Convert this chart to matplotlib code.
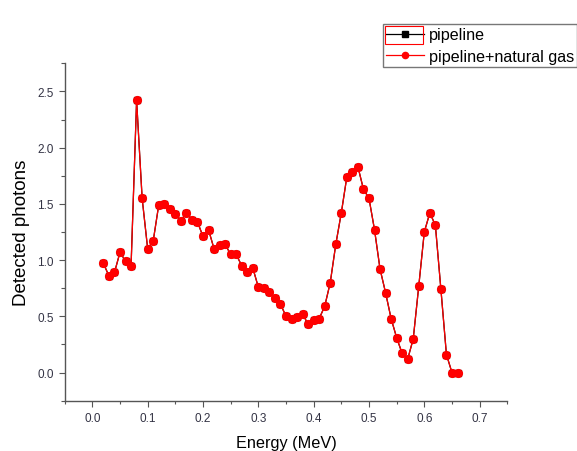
import numpy as np
import matplotlib
matplotlib.use("Agg")
import matplotlib.pyplot as plt
from matplotlib.patches import Rectangle
from matplotlib.ticker import MultipleLocator, FormatStrFormatter

plt.rcParams['font.family'] = ['Liberation Sans', 'DejaVu Sans']

# energy (MeV)
energy = [0.02, 0.03, 0.04, 0.05, 0.06, 0.07, 0.08, 0.09, 0.10, 0.11,
          0.12, 0.13, 0.14, 0.15, 0.16, 0.17, 0.18, 0.19, 0.20, 0.21,
          0.22, 0.23, 0.24, 0.25, 0.26, 0.27, 0.28, 0.29, 0.30, 0.31,
          0.32, 0.33, 0.34, 0.35, 0.36, 0.37, 0.38, 0.39, 0.40, 0.41,
          0.42, 0.43, 0.44, 0.45, 0.46, 0.47, 0.48, 0.49, 0.50, 0.51,
          0.52, 0.53, 0.54, 0.55, 0.56, 0.57, 0.58, 0.59, 0.60, 0.61,
          0.62, 0.63, 0.64, 0.65, 0.66]

# detected photons, pipeline only
pipeline = [0.97, 0.86, 0.89, 1.07, 0.99, 0.95, 2.42, 1.55, 1.10, 1.17,
            1.49, 1.50, 1.45, 1.41, 1.35, 1.42, 1.36, 1.34, 1.21, 1.27,
            1.10, 1.13, 1.14, 1.05, 1.05, 0.95, 0.89, 0.93, 0.76, 0.75,
            0.72, 0.66, 0.61, 0.50, 0.48, 0.49, 0.52, 0.43, 0.47, 0.48,
            0.59, 0.80, 1.14, 1.42, 1.74, 1.78, 1.83, 1.63, 1.55, 1.27,
            0.92, 0.71, 0.48, 0.31, 0.17, 0.12, 0.30, 0.77, 1.25, 1.42,
            1.31, 0.74, 0.16, 0.00, 0.00]

# pipeline + natural gas (overlaps the pipeline curve)
pipeline_gas = [0.97, 0.86, 0.89, 1.07, 0.99, 0.95, 2.42, 1.55, 1.10, 1.17,
                1.49, 1.50, 1.45, 1.41, 1.35, 1.42, 1.36, 1.34, 1.21, 1.27,
                1.10, 1.13, 1.14, 1.05, 1.05, 0.95, 0.89, 0.93, 0.76, 0.75,
                0.72, 0.66, 0.61, 0.50, 0.48, 0.49, 0.52, 0.43, 0.47, 0.48,
                0.59, 0.80, 1.14, 1.42, 1.74, 1.78, 1.83, 1.63, 1.55, 1.27,
                0.92, 0.71, 0.48, 0.31, 0.17, 0.12, 0.30, 0.77, 1.25, 1.42,
                1.31, 0.74, 0.16, 0.00, 0.00]

fig = plt.figure(figsize=(5.77, 4.52), dpi=100)
ax = fig.add_axes([0.1121, 0.1113, 0.7671, 0.7465])

ax.plot(energy, pipeline, color='black', lw=0.9, marker='s', ms=4.8,
        mfc='black', mec='black', label='pipeline')
ax.plot(energy, pipeline_gas, color='red', lw=0.9, marker='o', ms=5.6,
        mfc='red', mec='red', label='pipeline+natural gas')

ax.set_xlim(-0.05, 0.75)
ax.set_ylim(-0.25, 2.75)
ax.xaxis.set_major_locator(MultipleLocator(0.1))
ax.xaxis.set_minor_locator(MultipleLocator(0.05))
ax.yaxis.set_major_locator(MultipleLocator(0.5))
ax.yaxis.set_minor_locator(MultipleLocator(0.25))
ax.xaxis.set_major_formatter(FormatStrFormatter('%.1f'))
ax.yaxis.set_major_formatter(FormatStrFormatter('%.1f'))

for s in ['top', 'right']:
    ax.spines[s].set_visible(False)
for s in ['left', 'bottom']:
    ax.spines[s].set_color('#555555')
    ax.spines[s].set_linewidth(1.0)

ax.tick_params(which='major', direction='out', length=4.3, width=0.8,
               color='#555555', labelsize=8.5, labelcolor='#333344', pad=3.5)
ax.tick_params(which='minor', direction='out', length=2.3, width=0.8,
               color='#555555')
ax.tick_params(axis='y', which='minor', length=3.0)

ax.set_xlabel('Energy (MeV)', fontsize=11.7, labelpad=8)
ax.set_ylabel('Detected photons', fontsize=13.5, labelpad=5)

leg = fig.legend(loc='upper left', bbox_to_anchor=(383 / 577, 1 - 25 / 452),
                 fontsize=11.6, frameon=True, fancybox=False, borderpad=0.2,
                 handlelength=2.35, handletextpad=0.3, labelspacing=0.4,
                 borderaxespad=0.0, markerscale=0.8)
leg.get_frame().set_edgecolor('#555555')
leg.get_frame().set_linewidth(1.0)

# red selection box around the first legend symbol
fig.patches.append(Rectangle((385 / 577, 1 - 45 / 452), 38 / 577, 18 / 452,
                             transform=fig.transFigure, fill=False,
                             edgecolor='red', lw=0.8, zorder=10))

fig.savefig('out.png', dpi=100)
